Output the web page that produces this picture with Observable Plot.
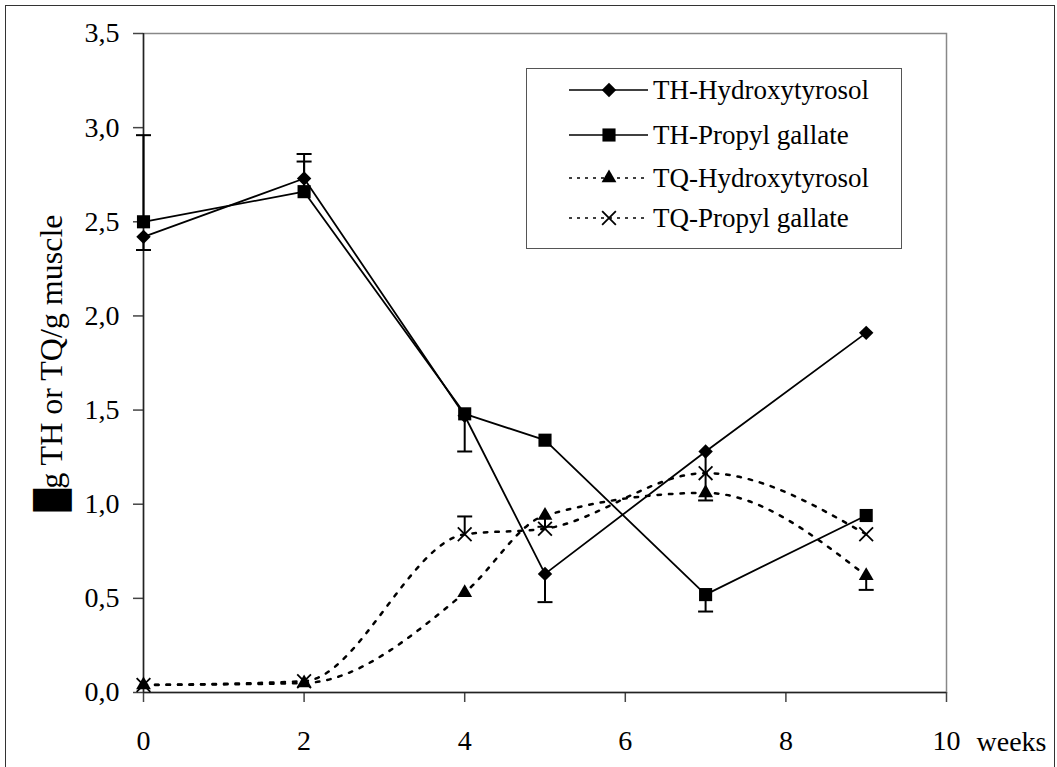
<!DOCTYPE html>
<html><head><meta charset="utf-8">
<script src="https://cdn.jsdelivr.net/npm/d3@7"></script>
<script src="https://cdn.jsdelivr.net/npm/@observablehq/plot@0.6"></script>
<style>
html,body{margin:0;padding:0;background:#fff;overflow:hidden;}
#wrap{position:relative;width:1057px;height:767px;}
#border{position:absolute;left:5px;top:5px;width:1050px;height:790px;border:1.5px solid #333;box-sizing:border-box;pointer-events:none;}
#legend{position:absolute;left:526px;top:68px;width:376px;height:181px;border:1px solid #555;box-sizing:border-box;background:#fff;font-family:"Liberation Serif","Times New Roman",serif;font-size:27px;color:#000;}
.row{position:absolute;left:42px;height:40px;display:flex;align-items:center;white-space:nowrap;}
.row svg{margin-right:5px;}
</style></head>
<body>
<div id="wrap"><div id="border"></div></div>
<script>
// ---- data ----
const weeks = [0, 2, 4, 5, 7, 9];
const seriesNames = ["TH-Hydroxytyrosol", "TH-Propyl gallate", "TQ-Hydroxytyrosol", "TQ-Propyl gallate"];
const thHydroxytyrosol = [2.42, 2.73, 1.47, 0.63, 1.28, 1.91];
const thPropylGallate  = [2.50, 2.66, 1.48, 1.34, 0.52, 0.94];
const tqHydroxytyrosol = [0.04, 0.05, 0.53, 0.94, 1.06, 0.62];
const tqPropylGallate  = [0.04, 0.06, 0.84, 0.87, 1.165, 0.84];
// error bars: [series, week, end value]
const errSeries = ["TH-Hydroxytyrosol","TH-Hydroxytyrosol","TH-Hydroxytyrosol","TH-Hydroxytyrosol",
                   "TH-Propyl gallate","TH-Propyl gallate","TH-Propyl gallate","TH-Propyl gallate",
                   "TQ-Hydroxytyrosol","TQ-Hydroxytyrosol","TQ-Propyl gallate"];
const errWeek = [0, 2, 5, 7, 0, 2, 4, 7, 5, 9, 4];
const errEnd  = [2.35, 2.86, 0.48, 1.02, 2.96, 2.82, 1.28, 0.43, 0.88, 0.545, 0.935];
const xTicks = [0, 2, 4, 6, 8, 10];
const yTicks = [0, 0.5, 1, 1.5, 2, 2.5, 3, 3.5];
const xUnit = "weeks";
const yLabel = "\u2588g TH or TQ/g muscle";

// ---- build tables ----
const valuesBy = {
  "TH-Hydroxytyrosol": thHydroxytyrosol,
  "TH-Propyl gallate": thPropylGallate,
  "TQ-Hydroxytyrosol": tqHydroxytyrosol,
  "TQ-Propyl gallate": tqPropylGallate
};
const rows = seriesNames.flatMap(s => weeks.map((w, i) => ({series: s, week: w, value: valuesBy[s][i]})));
const th = rows.filter(d => d.series.startsWith("TH"));
const tq = rows.filter(d => d.series.startsWith("TQ"));
const errRows = errSeries.map((s, i) => ({
  series: s, week: errWeek[i], end: errEnd[i],
  value: valuesBy[s][weeks.indexOf(errWeek[i])]
}));
const bySeries = s => rows.filter(d => d.series === s);

const capSymbol = {draw(ctx, size) { const w = Math.sqrt(size / Math.PI); ctx.moveTo(-w, 0); ctx.lineTo(w, 0); }};
const fmt = v => d3.format(".1f")(v).replace(".", ",");
const font = "'Liberation Serif', 'Times New Roman', serif";

const chart = Plot.plot({
  width: 1057, height: 767,
  marginLeft: 143, marginRight: 111, marginTop: 33, marginBottom: 75,
  style: {fontFamily: font, fontSize: "28px", color: "#000", background: "transparent", overflow: "visible"},
  x: {domain: [0, 10]},
  y: {domain: [0, 3.5]},
  marks: [
    Plot.frame({stroke: "#888", strokeWidth: 1.5}),
    Plot.axisX({ticks: xTicks, tickSize: 10, tickPadding: 28, tickFormat: d => String(d), label: null, fontSize: 28, stroke: "#444", strokeWidth: 1.5}),
    Plot.axisY({ticks: yTicks, tickSize: 10, tickPadding: 14, tickFormat: fmt, label: null, fontSize: 28, stroke: "#444", strokeWidth: 1.5}),
    Plot.ruleX([0], {stroke: "#222", strokeWidth: 1.5}),
    Plot.ruleY([0], {stroke: "#222", strokeWidth: 1.5}),
    Plot.text([xUnit], {frameAnchor: "bottom-right", dx: 30, dy: 58, textAnchor: "start", lineAnchor: "bottom", fontSize: 28}),
    Plot.text([yLabel], {frameAnchor: "left", rotate: -90, dx: -82, lineAnchor: "bottom", textAnchor: "middle", fontSize: 32}),
    Plot.ruleX(errRows, {x: "week", y1: "value", y2: "end", stroke: "black", strokeWidth: 2}),
    Plot.dot(errRows, {x: "week", y: "end", symbol: capSymbol, r: 7.5, fill: "none", stroke: "black", strokeWidth: 2}),
    Plot.line(tq, {x: "week", y: "value", z: "series", stroke: "black", strokeWidth: 2.5, strokeDasharray: "3.5,8", curve: "monotone-x"}),
    Plot.line(th, {x: "week", y: "value", z: "series", stroke: "black", strokeWidth: 1.8}),
    Plot.dot(bySeries("TQ-Hydroxytyrosol"), {x: "week", y: "value", symbol: "triangle", r: 5.5, fill: "black", stroke: "none"}),
    Plot.dot(bySeries("TQ-Propyl gallate"), {x: "week", y: "value", symbol: "times", r: 6.3, fill: "none", stroke: "black", strokeWidth: 1.8}),
    Plot.dot(bySeries("TH-Propyl gallate"), {x: "week", y: "value", symbol: "square", r: 7.4, fill: "black", stroke: "none"}),
    Plot.dot(bySeries("TH-Hydroxytyrosol"), {x: "week", y: "value", symbol: "diamond2", r: 6.5, fill: "black", stroke: "none"})
  ]
});
const wrap = document.getElementById("wrap");
chart.style.position = "absolute"; chart.style.left = "0"; chart.style.top = "0";
wrap.insertBefore(chart, wrap.firstChild);

// ---- legend ----
const legend = document.createElement("div");
legend.id = "legend";
const legendSpec = [
  {name: seriesNames[0], symbol: d3.symbolDiamond2, size: Math.PI * 6.5 * 6.5, dash: null, fill: true},
  {name: seriesNames[1], symbol: d3.symbolSquare, size: Math.PI * 7.4 * 7.4, dash: null, fill: true},
  {name: seriesNames[2], symbol: d3.symbolTriangle, size: Math.PI * 5.5 * 5.5, dash: "3,5", fill: true},
  {name: seriesNames[3], symbol: d3.symbolTimes, size: Math.PI * 6.3 * 6.3, dash: "3,5", fill: false}
];
const rowTops = [1, 46, 89, 129];
legendSpec.forEach((s, i) => {
  const row = document.createElement("div");
  row.className = "row";
  row.style.top = rowTops[i] + "px";
  const svg = d3.create("svg").attr("width", 79).attr("height", 24);
  svg.append("line").attr("x1", 0).attr("x2", 79).attr("y1", 12).attr("y2", 12)
    .attr("stroke", "black").attr("stroke-width", 1.6).attr("stroke-dasharray", s.dash);
  svg.append("path").attr("d", d3.symbol(s.symbol, s.size)()).attr("transform", "translate(40,12)")
    .attr("fill", s.fill ? "black" : "none").attr("stroke", s.fill ? "none" : "black").attr("stroke-width", 1.8);
  row.appendChild(svg.node());
  const t = document.createElement("span");
  t.textContent = s.name;
  row.appendChild(t);
  legend.appendChild(row);
});
wrap.appendChild(legend);
</script>
</body></html>
